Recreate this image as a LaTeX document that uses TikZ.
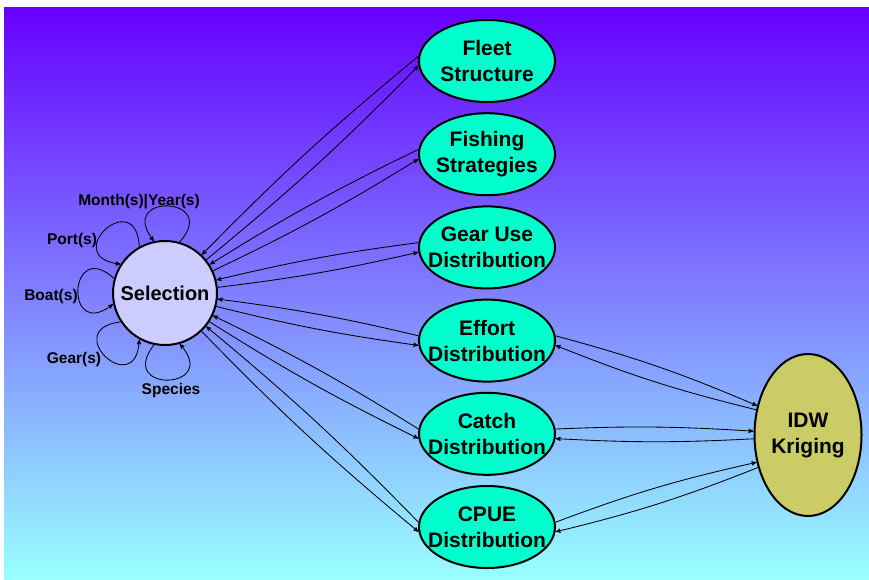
\documentclass[tikz,border=0pt]{standalone}
\usepackage{fontspec}
\setmainfont{Liberation Sans}
\usetikzlibrary{arrows,shapes}

\definecolor{bgtop}{HTML}{6600FF}
\definecolor{bgbottom}{HTML}{99FFFF}
\definecolor{modfill}{HTML}{00FFCC}
\definecolor{selfill}{HTML}{CCCCFF}
\definecolor{idwfill}{HTML}{CCCC66}

\begin{document}
\begin{tikzpicture}[x=1pt, y=-1pt, ->,>=stealth',shorten >=0pt, line width=0.85pt,
                node distance=93.2pt,
                module/.style={ellipse, draw, line width=2pt, fill=modfill, align=center,
                  font=\fontsize{21}{26}\selectfont\bfseries, inner xsep=-11pt, inner ysep=0pt,
                  minimum width=136pt, minimum height=82pt},
                lbl/.style={font=\fontsize{15.5}{18}\selectfont\bfseries},
                loopy/.style={distance=62pt}]
		\useasboundingbox (0,0) rectangle (869,579);
		\fill[-, top color=bgtop, bottom color=bgbottom] (4,7) rectangle (869,579);

		\node [circle, draw, line width=2pt, fill=selfill, minimum size=104pt, inner sep=0pt,
		       font=\fontsize{20}{24}\selectfont\bfseries] (sel) at (165,293) {Selection};
		\node [module] (fleet) at (487,61) {Fleet\\Structure};
		\node [module] (fish) [below of=fleet] {Fishing\\Strategies};
		\node [module] (gear) [below of=fish] {Gear Use\\Distribution};
		\node [module] (effort) [below of=gear] {Effort\\Distribution};
		\node [module] (catch) [below of=effort] {Catch\\Distribution};
		\node [module] (cpue) [below of=catch] {CPUE\\Distribution};
		\node [ellipse, draw, line width=2pt, fill=idwfill, align=center, inner sep=0pt,
		       minimum width=107pt, minimum height=162pt,
		       font=\fontsize{21}{26}\selectfont\bfseries] (idw) at (808,435) {IDW\\Kriging};

		% selection criteria
		\node [lbl] (month) at (139,202) {Month(s)|Year(s)};
		\node [lbl] (port) at (72,240) {Port(s)};
		\node [lbl] (boat) at (51,296) {Boat(s)};
		\node [lbl] (gearsel) at (74,359) {Gear(s)};
		\node [lbl] (species) at (171,390) {Species};

		\path (sel.74) edge [loopy, out=48, in=128] (sel.102)
		      (sel.119) edge [loopy, out=93, in=173] (sel.147)
		      (sel.164) edge [loopy, out=138, in=218] (sel.192)
		      (sel.213) edge [loopy, out=187, in=267] (sel.241)
		      (sel.258) edge [loopy, out=232, in=312] (sel.286);

		\foreach \m in {fleet,fish,gear,effort,catch,cpue}
		  \path (sel) edge [bend right=3] (\m.184)
		        (\m.176) edge [bend right=3] (sel);

		% to the interpolation
		\path (effort.4) edge [bend left=4] (idw.150)
		      (idw.154) edge [bend left=4] (effort.356)
		      (catch.4) edge [bend left=3] (idw.176)
		      (idw.184) edge [bend left=3] (catch.356)
		      (cpue.4) edge [bend left=4] (idw.208)
		      (idw.213) edge [bend left=4] (cpue.356);
\end{tikzpicture}
\end{document}
